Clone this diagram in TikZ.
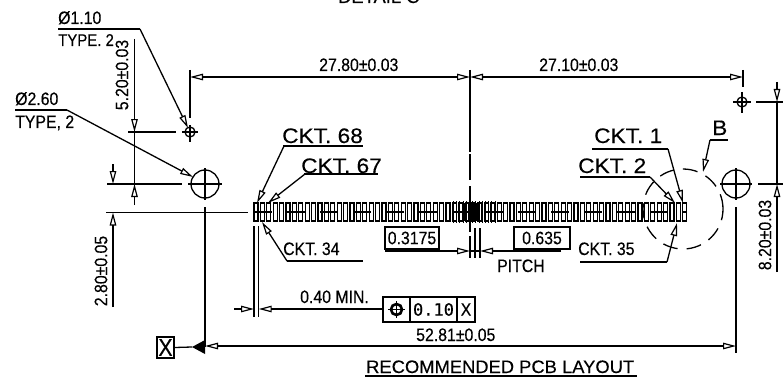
\documentclass[tikz,border=0pt]{standalone}
\usepackage{fontspec}
\usetikzlibrary{arrows.meta}
\setmainfont{Liberation Sans}
\newfontfamily\cadfont[FakeStretch=0.88,FakeBold=0.3]{Liberation Sans}
\newfontfamily\widefont[FakeStretch=1.08,FakeBold=0.3]{Liberation Sans}
\newfontfamily\titlefont[FakeStretch=1.02,FakeBold=0.3]{Liberation Sans}
\newfontfamily\monofont[FakeBold=0.6]{DejaVu Sans Mono}

\tikzset{
  dwg/.style={line width=1.3pt, line cap=butt},
  dim/.style={dwg, -{Triangle[open,length=13pt,width=6.5pt,line width=1.2pt]}},
  dimboth/.style={dwg, {Triangle[open,length=13pt,width=6.5pt,line width=1.2pt]}-{Triangle[open,length=13pt,width=6.5pt,line width=1.2pt]}},
  lbl/.style={inner sep=0pt, anchor=base west, font=\cadfont\fontsize{18}{18}\selectfont},
  big/.style={inner sep=0pt, anchor=base west, font=\widefont\fontsize{21}{21}\selectfont},
  vlbl/.style={inner sep=0pt, rotate=90, font=\cadfont\fontsize{18}{18}\selectfont},
  cell/.style={draw, dwg, minimum height=25pt, inner sep=0pt, font=\monofont\fontsize{17}{17}\selectfont},
  framed/.style={draw, dwg, inner sep=0pt, minimum height=22pt, font=\cadfont\fontsize{18}{18}\selectfont},
  pad/.style={line width=1.1pt}
}

\begin{document}
\begin{tikzpicture}[x=1pt,y=-1pt]
    \useasboundingbox (0,0) rectangle (783,377);
    \coordinate (holeL) at (205,184);
    \coordinate (holeR) at (736,184);
    \coordinate (tinyL) at (190,132);
    \coordinate (tinyR) at (742,102);

    % holes
    \draw[dwg] (holeL) circle (14pt) (holeR) circle (14pt);
    \draw[dwg] (tinyL) circle (5pt) (tinyR) circle (5pt);
    \draw[dwg] (188,184) -- (222,184) (205,168) -- (205,200);
    \draw[dwg] (720,184) -- (752,184) (736,168) -- (736,200);
    \draw[dwg] (182,132) -- (198,132) (190,125) -- (190,142);
    \draw[dwg] (733,102) -- (751,102) (742,92) -- (742,113);

    % pads
    \foreach \i in {0,...,67} {
      \draw[pad] ({254+6.4*\i},203) rectangle ({258+6.4*\i},221);
    }
    \foreach \i in {0,...,13} {
      \draw[pad] ({453.5+3.2*\i},201) -- ({453.5+3.2*\i},223);
    }
    \foreach \i in {0,...,8} {
      \draw[pad] ({465+1.6*\i},203) -- ({465+1.6*\i},221);
    }
    \draw[pad, dash pattern=on 18pt off 15pt] (254,212) -- (687,212);

    % top dimensions
    \draw[dwg] (190,70) -- (190,118);
    \draw[dwg] (470,70) -- (470,152) (470,154) -- (470,180) (470,186) -- (470,232) (470,236) -- (470,258);
    \draw[dwg] (743,70) -- (743,87);
    \draw[dimboth] (190,77) -- (470,77);
    \draw[dimboth] (470,77) -- (743,77);
    \node[lbl] (topleft) at (319,71) {27.80±0.03};
    \node[lbl] (topright) at (539,71) {27.10±0.03};

    % left dimensions
    \draw[dwg] (128,132) -- (176,132);
    \draw[dim] (134.5,39) -- (134.5,132);
    \draw[dwg] (134.5,132) -- (134.5,184);
    \draw[dim] (134.5,205) -- (134.5,184);
    \draw[dwg] (107,184) -- (182,184);
    \draw[dwg] (106,212.5) -- (248,212.5);
    \draw[dim] (113,164) -- (113,184);
    \draw[dim] (113,307) -- (113,212.5);
    \node[vlbl] (dimtall) at (122,75) {5.20±0.03};
    \node[vlbl] (dimlow) at (101,271) {2.80±0.05};

    % right dimensions
    \draw[dwg] (756,102) -- (783,102) (758,184) -- (783,184);
    \draw[dim] (777,82) -- (777,102);
    \draw[dwg] (777,102) -- (777,184);
    \draw[dim] (777,272) -- (777,184);
    \node[vlbl] (dimright) at (765,235) {8.20±0.03};

    % bottom dimension and datum
    \draw[dwg] (205,207) -- (205,347);
    \draw[dwg] (736,207) -- (736,353);
    \draw[dimboth] (205,346) -- (736,346);
    \fill (192,347) -- (205,340) -- (205,354) -- cycle;
    \node[draw, dwg, minimum width=17pt, minimum height=21pt, inner sep=0pt,
      font=\cadfont\fontsize{24}{24}\selectfont] (datum) at (165.5,347.5) {X};
    \draw[dwg] (datum.east) -- (192,347);
    \node[lbl] (overall) at (416,341) {52.81±0.05};
    \node[big, font=\titlefont\fontsize{18}{18}\selectfont] (title) at (366,373) {RECOMMENDED PCB LAYOUT};
    \draw[dwg] (365,376) -- (637,376);
    \node[big, font=\titlefont\fontsize{18}{18}\selectfont] (detail) at (338,3) {DETAIL C};

    % hole callouts
    \node[lbl] (tinydia) at (58,24) {Ø1.10};
    \node[lbl, font=\cadfont\fontsize{17}{17}\selectfont] (tinytype) at (58,46) {TYPE. 2};
    \draw[dwg] (58,29) -- (140,29);
    \draw[dim] (140,29) -- (188,128);
    \node[lbl] (holedia) at (15,105) {Ø2.60};
    \node[lbl] (holetype) at (15,128) {TYPE, 2};
    \draw[dwg] (15,110) -- (67,110);
    \draw[dim] (67,110) -- (193,177);

    % circuit callouts
    \node[big] (ckt68) at (282,143) {CKT. 68};
    \draw[dwg] (283,146) -- (363,146);
    \draw[dim] (284,146) -- (257,203);
    \node[big] (ckt67) at (301,173) {CKT. 67};
    \draw[dwg] (304,174) -- (378,174);
    \draw[dim] (305,174) -- (268,203);
    \node[lbl] (ckt34) at (283,255) {CKT. 34};
    \draw[dwg] (287,261) -- (363,261);
    \draw[dim] (287,261) -- (262,222);
    \node[big] (ckt1) at (594,143) {CKT. 1};
    \draw[dwg] (592,149) -- (668,149);
    \draw[dim] (668,149) -- (683,203);
    \node[big] (ckt2) at (578,173) {CKT. 2};
    \draw[dwg] (580,177) -- (650,177);
    \draw[dim] (650,177) -- (675,203);
    \node[lbl] (ckt35) at (578,255) {CKT. 35};
    \draw[dwg] (580,262) -- (667,262);
    \draw[dim] (667,262) -- (677,223);

    % detail circle
    \draw[dwg, dash pattern=on 15pt off 9pt] (683,209) circle (40pt);
    \node[big] (detailb) at (712,135) {B};
    \draw[dwg] (710,140) -- (728,140);
    \draw[dim] (710,140) -- (703,172);

    % pad width and tolerance frame
    \draw[dwg] (254,226) -- (254,317) (258.7,226) -- (258.7,317);
    \draw[dim] (234,309) -- (254,309);
    \draw[dim] (383,309) -- (258.7,309);
    \node[lbl] (minwidth) at (300,303) {0.40 MIN.};
    \node[cell, minimum width=27pt] (fcfsym) at (396.5,309.5) {};
    \node[cell, minimum width=47pt] (fcfval) at (433.5,309.5) {0.10};
    \node[cell, minimum width=18pt, font=\cadfont\fontsize{18}{18}\selectfont] (fcfref) at (466,309.5) {X};
    \draw[line width=2.6pt] (fcfsym) circle (5.5pt);
    \draw[line width=1.8pt] (388,309.5) -- (405,309.5) (396.5,301) -- (396.5,318);

    % pitch
    \node[framed, minimum width=54pt] (halfpitch) at (412,238) {0.3175};
    \node[framed, minimum width=56pt] (fullpitch) at (542,238) {0.635};
    \draw[dwg] (475,228) -- (475,258) (480,228) -- (480,258);
    \draw[dim] (385,251) -- (470,251);
    \draw[dim] (561,251) -- (480,251);
    \draw[dwg] (470,251) -- (480,251);
    \node[lbl] (pitchlbl) at (497,272) {PITCH};
\end{tikzpicture}
\end{document}
